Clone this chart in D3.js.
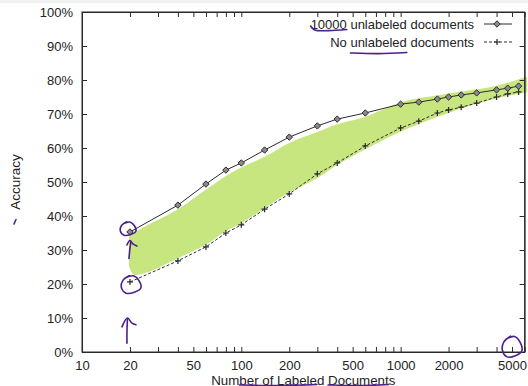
<!DOCTYPE html>
<html>
<head>
<meta charset="utf-8">
<script src="https://cdn.jsdelivr.net/npm/d3@7"></script>
<style>
  body { margin: 0; background: #fff; }
  text { font-family: "Liberation Sans", Arial, Helvetica, sans-serif; fill: #222; }
</style>
</head>
<body>
<svg id="chart" width="528" height="386"></svg>
<script>
// values
var labeledDocs   = [20, 40, 60, 80, 100, 140, 200, 300, 400, 600, 1000, 1300, 1700, 2000, 2400, 3000, 4000, 4700, 5500];
var withUnlabeled = [35.3, 43.2, 49.4, 53.5, 55.6, 59.4, 63.2, 66.5, 68.5, 70.3, 72.9, 73.5, 74.4, 75.0, 75.6, 76.2, 77.1, 77.6, 78.2];
var noUnlabeled   = [20.6, 26.8, 30.9, 35.0, 37.4, 42.0, 46.5, 52.4, 55.6, 60.6, 65.9, 67.9, 70.3, 71.2, 72.0, 73.2, 75.0, 75.9, 76.5];

var xTickLabels = [10, 20, 50, 100, 200, 500, 1000, 2000, 5000];
var yTickValues = [0, 10, 20, 30, 40, 50, 60, 70, 80, 90, 100];
var legendLabels = ["10000 unlabeled documents", "No unlabeled documents"];

// green highlighter band (hand drawn)
var bandX    = [19.7, 21, 25, 40, 60, 80, 100, 140, 200, 300, 400, 600, 1000, 2000, 4000, 6200];
var bandHigh = [34.0, 35.0, 37.0, 42.0, 47.8, 51.8, 54.3, 57.4, 61.5, 64.7, 67.0, 69.2, 73.4, 76.0, 78.3, 81.0];
var bandLow  = [25.5, 22.8, 23.2, 27.6, 31.6, 35.6, 37.9, 42.3, 46.9, 51.2, 55.0, 59.6, 64.8, 70.3, 74.6, 76.3];

var INK = '#2b2b2b';
var PEN = '#4b1f8e';
var GREEN = '#c8e67f';

var padL = 82, padR = 524.6, padT = 12, padB = 352;

var svg = d3.select("#chart");

svg.append("rect")
  .attr("x", 0).attr("y", 0).attr("width", 528).attr("height", 3)
  .attr("fill", "#f1f1f1");

var x = d3.scaleLog().domain([10, 6000]).range([padL, padR]);
var y = d3.scaleLinear().domain([0, 100]).range([padB, padT]);

// highlighter
var band = bandX.map(function(d, i) { return {x: d, lo: bandLow[i], hi: bandHigh[i]}; });
svg.append("path")
  .datum(band)
  .attr("fill", GREEN)
  .attr("d", d3.area()
    .curve(d3.curveCatmullRom)
    .x(function(d) { return x(d.x); })
    .y0(function(d) { return y(d.lo); })
    .y1(function(d) { return y(d.hi); }));

// axes, ticks pointing inward
var minor = x.ticks();
function fmtX(d) { return xTickLabels.indexOf(Math.round(d)) >= 0 ? d3.format("d")(d) : ""; }

var gx = svg.append("g").attr("transform", "translate(0," + padB + ")")
  .call(d3.axisBottom(x).tickValues(minor).tickFormat(fmtX).tickSizeInner(-5).tickSizeOuter(0).tickPadding(9));
var gt = svg.append("g").attr("transform", "translate(0," + padT + ")")
  .call(d3.axisTop(x).tickValues(minor).tickFormat("").tickSizeInner(-5).tickSizeOuter(0));
var gy = svg.append("g").attr("transform", "translate(" + padL + ",0)")
  .call(d3.axisLeft(y).tickValues(yTickValues).tickFormat(function(d) { return d + "%"; })
    .tickSizeInner(-5).tickSizeOuter(0).tickPadding(9));
var gr = svg.append("g").attr("transform", "translate(" + padR + ",0)")
  .call(d3.axisRight(y).tickValues(yTickValues).tickFormat("").tickSizeInner(-5).tickSizeOuter(0));

[gx, gt, gy, gr].forEach(function(g) {
  g.selectAll("path, line").attr("stroke", INK);
  g.selectAll("text").attr("font-size", 13).attr("fill", "#222")
    .attr("font-family", '"Liberation Sans", Arial, sans-serif');
});

svg.append("text")
  .attr("x", (padL + padR) / 2).attr("y", 384.5)
  .attr("text-anchor", "middle").attr("font-size", 13.3)
  .attr("id", "xtitle")
  .text("Number of Labeled Documents");

svg.append("text")
  .attr("transform", "translate(20," + ((padT + padB) / 2) + ") rotate(-90)")
  .attr("text-anchor", "middle").attr("font-size", 13.5)
  .text("Accuracy");

// series
var upper = labeledDocs.map(function(d, i) { return [d, withUnlabeled[i]]; });
var lower = labeledDocs.map(function(d, i) { return [d, noUnlabeled[i]]; });
var line = d3.line().x(function(d) { return x(d[0]); }).y(function(d) { return y(d[1]); });

svg.append("path").datum(upper)
  .attr("fill", "none").attr("stroke", INK).attr("stroke-width", 1).attr("d", line);
svg.append("path").datum(lower)
  .attr("fill", "none").attr("stroke", INK).attr("stroke-width", 1)
  .attr("stroke-dasharray", "3,2").attr("d", line);

function diamond(s) { return "M0," + (-s) + "L" + s + ",0L0," + s + "L" + (-s) + ",0Z"; }
function cross(s) { return "M" + (-s) + ",0H" + s + "M0," + (-s) + "V" + s; }

svg.selectAll("path.dia").data(upper).enter()
  .append("path").attr("class", "dia")
  .attr("transform", function(d) { return "translate(" + x(d[0]) + "," + y(d[1]) + ")"; })
  .attr("d", diamond(3.2)).attr("fill", "#8a8a8a").attr("stroke", INK).attr("stroke-width", 1);

svg.selectAll("path.crs").data(lower).enter()
  .append("path").attr("class", "crs")
  .attr("transform", function(d) { return "translate(" + x(d[0]) + "," + y(d[1]) + ")"; })
  .attr("d", cross(3)).attr("fill", "none").attr("stroke", INK).attr("stroke-width", 1.2);

// frame
svg.append("rect")
  .attr("x", padL).attr("y", padT).attr("width", padR - padL).attr("height", padB - padT)
  .attr("fill", "none").attr("stroke", INK).attr("stroke-width", 1);

// legend
var legend = svg.append("g");
legendLabels.forEach(function(label, i) {
  var ly = 24 + i * 18;
  legend.append("text")
    .attr("x", 474).attr("y", ly).attr("dy", "0.35em")
    .attr("text-anchor", "end").attr("font-size", 13)
    .attr("id", "leg" + i)
    .text(label);
  var sample = legend.append("line")
    .attr("x1", 484).attr("x2", 512).attr("y1", ly).attr("y2", ly)
    .attr("stroke", INK).attr("stroke-width", 1);
  if (i === 0) {
    legend.append("path").attr("transform", "translate(497," + ly + ")")
      .attr("d", diamond(3.2)).attr("fill", "#8a8a8a").attr("stroke", INK);
  } else {
    sample.attr("stroke-dasharray", "3,2");
    legend.append("path").attr("transform", "translate(497," + ly + ")")
      .attr("d", cross(3)).attr("fill", "none").attr("stroke", INK).attr("stroke-width", 1.2);
  }
});

// purple pen marks
var pen = svg.append("g").attr("fill", "none").attr("stroke", PEN)
  .attr("stroke-width", 1.6).attr("stroke-linecap", "round").attr("stroke-linejoin", "round");
var smooth = d3.line().curve(d3.curveCatmullRom);

function loop(cx, cy, rx, ry) {
  var pts = [], wob = [1.0, 1.1, 0.95, 1.05, 0.92, 1.08, 1.0, 0.97, 1.12];
  for (var k = 0; k < 9; k++) {
    var a = -2.2 + k * (2 * Math.PI + 0.5) / 8;
    pts.push([cx + rx * wob[k] * Math.cos(a), cy + ry * wob[k] * Math.sin(a)]);
  }
  pen.append("path").attr("d", smooth(pts));
}
function stroke(pts) { pen.append("path").attr("d", smooth(pts)); }

function underline(id, i0, i1, yy, bend) {
  var t = document.getElementById(id);
  var a = t.getStartPositionOfChar(i0), b = t.getEndPositionOfChar(i1);
  stroke([[a.x, yy - bend], [a.x + 4, yy], [(a.x + b.x) / 2, yy + 0.6], [b.x, yy - 0.5]]);
}

var x20 = x(labeledDocs[0]);
loop(x20 - 2, y(withUnlabeled[0]) - 3, 8, 6.5);
loop(x20 + 1, y(noUnlabeled[0]) + 3, 10, 8.5);

// arrow between the two first points
stroke([[x20 - 1, y(27.5)], [x20, y(30.5)], [x20 + 1, y(32.5)]]);
stroke([[x20 - 3, y(31.5)], [x20, y(32.8)], [x20 + 3, y(31.8)], [x20 + 7, y(31.2)]]);

// arrow from below
stroke([[x20 - 3, y(2.6)], [x20 - 3, y(6)], [x20 - 2.5, y(9.8)]]);
stroke([[x20 - 8, y(7.4)], [x20 - 2.5, y(10)], [x20 + 2, y(8.5)], [x20 + 6, y(8)]]);

// around the 5000 tick
loop(x(5000), y(1.4), 10, 10);

// next to the y title
stroke([[14, 224], [16, 219.5]]);

underline("leg0", 0, 4, 30, 4);
underline("leg1", 3, 11, 53, 0);
underline("xtitle", 3, 15, 385, 0);
underline("xtitle", 18, 25, 385, 0);
</script>
</body>
</html>
